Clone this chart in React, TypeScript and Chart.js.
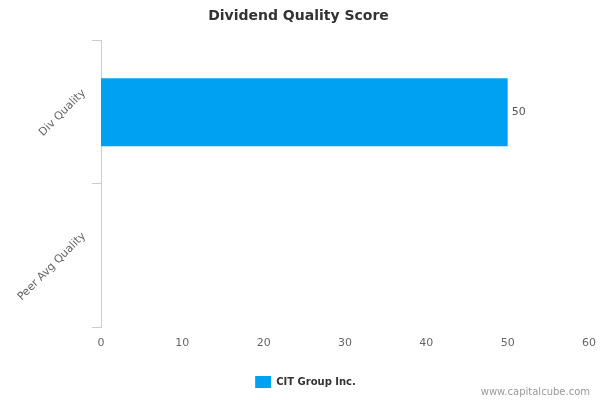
import React, { useEffect, useRef } from 'react';
import { Chart, registerables } from 'chart.js';

Chart.register(...registerables);

const categories = ['Div Quality', 'Peer Avg Quality'];
const seriesName = 'CIT Group Inc.';
const scores: (number | null)[] = [50, null];
const xMin = 0;
const xMax = 60;
const xStep = 10;

const FONT = "'DejaVu Sans', Verdana, sans-serif";

const valueLabels = {
  id: 'valueLabels',
  afterDatasetsDraw(chart: Chart) {
    const { ctx } = chart;
    const meta = chart.getDatasetMeta(0);
    ctx.save();
    ctx.font = `11px ${FONT}`;
    ctx.fillStyle = '#555';
    ctx.textAlign = 'left';
    ctx.textBaseline = 'middle';
    meta.data.forEach((bar: any, i) => {
      const v = scores[i];
      if (v == null) return;
      ctx.fillText(String(v), bar.x + 4, bar.y);
    });
    ctx.restore();
  },
};

const credits = {
  id: 'credits',
  afterDraw(chart: Chart) {
    const { ctx } = chart;
    ctx.save();
    ctx.font = `10px ${FONT}`;
    ctx.fillStyle = '#999';
    ctx.textAlign = 'right';
    ctx.textBaseline = 'middle';
    ctx.fillText('www.capitalcube.com', 590, 392);
    ctx.restore();
  },
};

// nudge the legend a little right, like the original
const legendShift = {
  id: 'legendShift',
  afterLayout(chart: any) {
    if (!chart.legend) return;
    chart.legend.left += 7;
    chart.legend.right += 7;
  },
};

const DividendChart: React.FC = () => {
  const canvasRef = useRef<HTMLCanvasElement>(null);
  const chartRef = useRef<Chart | null>(null);

  useEffect(() => {
    document.body.style.margin = '0';
    if (!canvasRef.current) return;
    const ctx = canvasRef.current.getContext('2d');
    if (!ctx) return;

    if (chartRef.current) chartRef.current.destroy();

    chartRef.current = new Chart(ctx, {
      type: 'bar',
      data: {
        labels: categories,
        datasets: [
          {
            label: seriesName,
            data: scores,
            backgroundColor: '#00a1f1',
            borderWidth: 0,
            categoryPercentage: 1,
            barPercentage: 0.475,
          },
        ],
      },
      options: {
        indexAxis: 'y',
        animation: false,
        responsive: false,
        maintainAspectRatio: false,
        layout: { padding: { left: 8, right: 11, top: 0, bottom: 2 } },
        scales: {
          x: {
            min: xMin,
            max: xMax,
            ticks: { stepSize: xStep, color: '#666', font: { family: FONT, size: 11 }, padding: 10 },
            grid: { display: false, drawTicks: false },
            border: { display: false },
            afterFit: (scale: any) => {
              scale.height = 39;
              scale.paddingLeft = 0;
              scale.paddingRight = 0;
            },
          },
          y: {
            ticks: {
              color: '#666',
              font: { family: FONT, size: 11 },
              minRotation: 45,
              maxRotation: 45,
              padding: 8,
              labelOffset: -21,
            },
            grid: { display: true, drawOnChartArea: false, drawTicks: true, tickLength: 9, color: '#c0d0e0' },
            border: { display: true, color: '#c0d0e0' },
            afterFit: (scale: any) => {
              scale.width = 93;
            },
          },
        },
        plugins: {
          title: {
            display: true,
            text: 'Dividend Quality Score',
            color: '#333',
            font: { family: FONT, size: 14, weight: 'bold' },
            padding: { top: 8, bottom: 16 },
          },
          legend: {
            position: 'bottom',
            labels: {
              boxWidth: 16,
              boxHeight: 12,
              color: '#333',
              font: { family: FONT, size: 10, weight: 'bold' },
              padding: 10,
            },
          },
          tooltip: { enabled: false },
        },
      },
      plugins: [valueLabels, credits, legendShift],
    });

    return () => chartRef.current?.destroy();
  }, []);

  return (
    <div style={{ width: 600, height: 400, background: '#fff' }}>
      <canvas ref={canvasRef} width={600} height={400}></canvas>
    </div>
  );
};

export default function App() {
  return <DividendChart />;
}
